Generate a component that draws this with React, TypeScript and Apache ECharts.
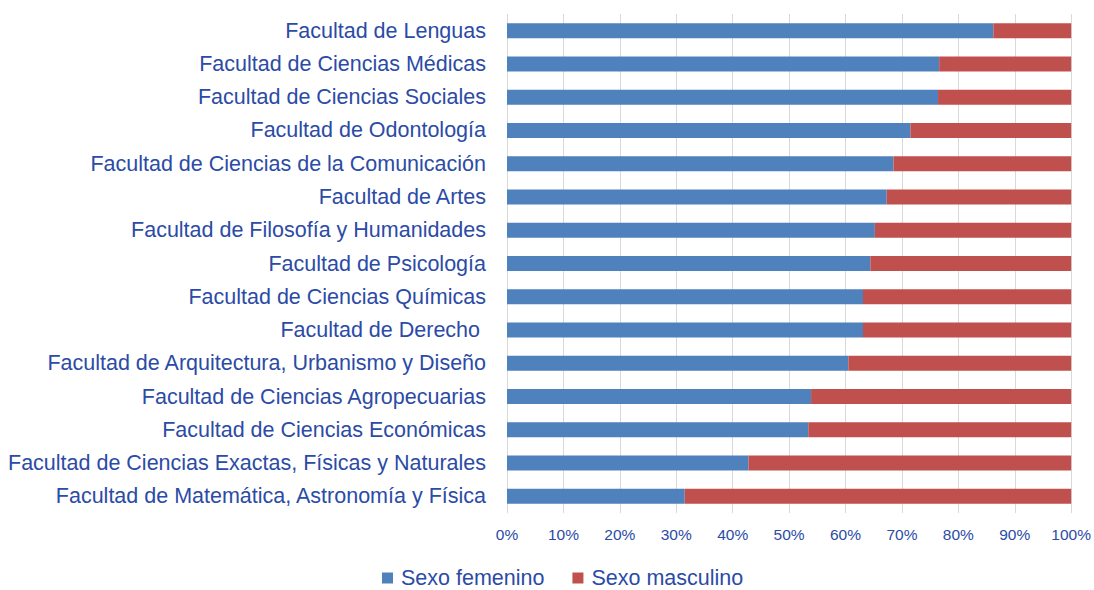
import React, { useEffect, useRef } from "react";
import * as echarts from "echarts";

const categories = [
  "Facultad de Lenguas",
  "Facultad de Ciencias Médicas",
  "Facultad de Ciencias Sociales",
  "Facultad de Odontología",
  "Facultad de Ciencias de la Comunicación",
  "Facultad de Artes",
  "Facultad de Filosofía y Humanidades",
  "Facultad de Psicología",
  "Facultad de Ciencias Químicas",
  "Facultad de Derecho ",
  "Facultad de Arquitectura, Urbanismo y Diseño",
  "Facultad de Ciencias Agropecuarias",
  "Facultad de Ciencias Económicas",
  "Facultad de Ciencias Exactas, Físicas y Naturales",
  "Facultad de Matemática, Astronomía y Física",
];

const femenino = [86.2, 76.6, 76.4, 71.5, 68.5, 67.3, 65.2, 64.4, 63.1, 63.1, 60.5, 53.9, 53.4, 42.8, 31.5];
const masculino = femenino.map((v) => +(100 - v).toFixed(1));

const xTicks = [0, 10, 20, 30, 40, 50, 60, 70, 80, 90, 100];

const textColor = "#2b4ba6";
const font = "Liberation Sans, Arial, Helvetica, sans-serif";

export default function App() {
  const ref = useRef<HTMLDivElement>(null);
  useEffect(() => {
    const chart = echarts.init(ref.current!, undefined, { renderer: "svg" });
    chart.setOption({
      animation: false,
      grid: { left: 507, right: 22, top: 14, height: 499 },
      legend: {
        top: 567,
        left: 382,
        padding: 0,
        itemWidth: 11,
        itemHeight: 11,
        itemGap: 28,
        icon: "rect",
        textStyle: { color: textColor, fontSize: 21.5, fontFamily: font, padding: [0, 0, 0, 3] },
        data: ["Sexo femenino", "Sexo masculino"],
      },
      xAxis: {
        type: "value",
        min: 0,
        max: 100,
        interval: 10,
        axisLine: { show: false },
        axisTick: { show: false },
        splitLine: { show: true, lineStyle: { color: "#d9d9d9", width: 1 } },
        axisLabel: {
          color: textColor,
          fontSize: 15.5,
          fontFamily: font,
          margin: 13,
          formatter: (v: number) => (xTicks.includes(v) ? v + "%" : ""),
        },
      },
      yAxis: {
        type: "category",
        inverse: true,
        data: categories,
        axisLine: { show: false },
        axisTick: { show: false },
        axisLabel: { color: textColor, fontSize: 21.5, fontFamily: font, margin: 21 },
      },
      series: [
        {
          name: "Sexo femenino",
          type: "bar",
          stack: "total",
          barWidth: 15,
          data: femenino,
          itemStyle: { color: "#4f81bd" },
        },
        {
          name: "Sexo masculino",
          type: "bar",
          stack: "total",
          barWidth: 15,
          data: masculino,
          itemStyle: { color: "#c0504d" },
        },
      ],
    });
    return () => chart.dispose();
  }, []);
  return (
    <div
      ref={ref}
      style={{ position: "absolute", left: 0, top: 0, width: 1094, height: 590 }}
    />
  );
}
